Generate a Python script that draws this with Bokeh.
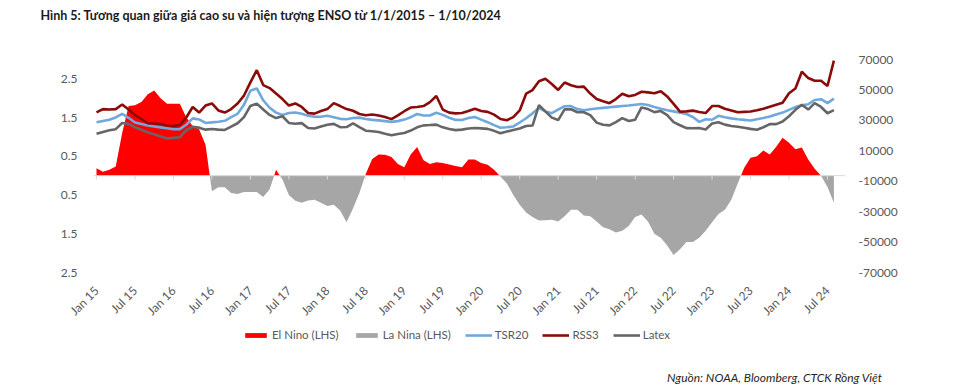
import math
import numpy as np
from bokeh.plotting import figure
from bokeh.layouts import column
from bokeh.models import (Range1d, LinearAxis, FixedTicker, Legend, LegendItem,
                          Title, Span)
from bokeh.embed import file_html
from bokeh.resources import INLINE

# ---------------- data ----------------
months = list(range(116))  # Jan 2015 ... Aug 2024 (month index)
tick_pos = list(range(0, 115, 6))
tick_labels = ["Jan 15", "Jul 15", "Jan 16", "Jul 16", "Jan 17", "Jul 17",
               "Jan 18", "Jul 18", "Jan 19", "Jul 19", "Jan 20", "Jul 20",
               "Jan 21", "Jul 21", "Jan 22", "Jul 22", "Jan 23", "Jul 23",
               "Jan 24", "Jul 24"]

left_ticks = [-2.5, -1.5, -0.5, 0.5, 1.5, 2.5]
left_tick_labels = ["2.5", "1.5", "0.5", "0.5", "1.5", "2.5"]
right_ticks = [-70000, -50000, -30000, -10000, 10000, 30000, 50000, 70000]
right_tick_labels = ["-70000", "-50000", "-30000", "-10000",
                     "10000", "30000", "50000", "70000"]

enso = [0.19, 0.10, 0.15, 0.24, 1.10, 1.80, 1.82, 1.90, 2.10, 2.20,
        2.00, 1.86, 1.86, 1.86, 1.50, 1.28, 1.20, 0.80, -0.40, -0.30,
        -0.30, -0.45, -0.47, -0.42, -0.42, -0.42, -0.55, -0.35, 0.15, -0.10,
        -0.50, -0.65, -0.70, -0.64, -0.62, -0.70, -0.78, -0.75, -0.90, -1.20,
        -0.85, -0.45, 0.05, 0.43, 0.55, 0.54, 0.48, 0.30, 0.22, 0.55,
        0.74, 0.40, 0.30, 0.35, 0.33, 0.29, 0.25, 0.22, 0.42, 0.42,
        0.33, 0.28, 0.15, -0.02, -0.20, -0.50, -0.75, -0.95, -1.07, -1.16,
        -1.15, -1.14, -1.18, -1.05, -0.88, -0.88, -1.03, -1.05, -1.18, -1.33,
        -1.38, -1.47, -1.42, -1.30, -1.07, -1.00, -1.18, -1.50, -1.60, -1.80,
        -2.05, -1.90, -1.71, -1.71, -1.60, -1.42, -1.20, -0.99, -0.88, -0.62,
        -0.20, 0.20, 0.46, 0.50, 0.65, 0.55, 0.75, 0.98, 0.85, 0.68,
        0.73, 0.42, 0.18, 0.00, -0.29, -0.70]

rss3 = [35300, 37400, 37100, 37400, 40400, 37100, 33500, 30900, 28100, 27900,
        27600, 26600, 26300, 26900, 31900, 38800, 35100, 39700, 41100, 36500,
        35100, 37400, 41100, 46300, 55000, 63000, 53200, 51200, 47600, 44000,
        39700, 41100, 38800, 34800, 34400, 36100, 37400, 41300, 39400, 37400,
        36300, 34200, 33400, 33800, 33200, 32200, 30800, 33300, 36000, 38400,
        38800, 39400, 42000, 46000, 37100, 35100, 34600, 34800, 36100, 37600,
        36100, 35600, 33800, 30900, 30100, 32100, 36500, 47500, 49900, 55700,
        57300, 53900, 50000, 54900, 53100, 51900, 52200, 47600, 44100, 42600,
        41300, 44000, 47500, 45800, 46700, 48800, 48400, 47800, 49200, 45700,
        40800, 35700, 35900, 36400, 35500, 34800, 39400, 39400, 37600, 36500,
        35300, 35600, 35800, 36600, 37700, 39000, 40300, 41600, 47800, 50900,
        62000, 57800, 56000, 56000, 52600, 69300]

tsr20 = [28800, 29600, 30400, 31900, 34200, 31700, 28600, 27600, 26600, 26000,
         25400, 24800, 24200, 24200, 27100, 31300, 30600, 28300, 28700, 29100,
         29700, 32100, 34300, 40200, 49500, 51000, 43200, 38300, 35100, 33500,
         34800, 35200, 34400, 33100, 32400, 32400, 33000, 32100, 31000, 30700,
         31500, 31800, 30900, 30300, 30000, 29500, 29000, 29500, 30500, 32100,
         34200, 33200, 33200, 35000, 33600, 31700, 30300, 30200, 31500, 32200,
         30500, 28800, 26900, 25100, 25500, 26000, 28600, 31400, 34600, 38200,
         35900, 34700, 37000, 39300, 39400, 37400, 36700, 37300, 37800, 38200,
         38600, 39000, 39400, 39800, 40300, 40700, 40100, 38800, 37600, 36700,
         35900, 35000, 34200, 32200, 29000, 30700, 30400, 33000, 32100, 31300,
         30700, 30300, 29900, 30700, 31500, 32500, 33800, 35100, 36900, 38700,
         39900, 40600, 43400, 43900, 41300, 44300]

latex = [21200, 22300, 23500, 24200, 28300, 27700, 25400, 23800, 22100, 20800,
         19400, 18100, 18500, 18900, 23500, 25800, 25200, 23900, 24300, 23900,
         23700, 25900, 28100, 32100, 39500, 41000, 37100, 33600, 31500, 32700,
         28300, 27800, 28200, 25000, 24600, 26000, 27100, 27700, 25500, 25600,
         28000, 25500, 23200, 22800, 22300, 21200, 20200, 21000, 21700, 23300,
         25400, 26700, 26900, 27200, 25400, 24300, 23600, 23900, 24600, 25000,
         24700, 24400, 23100, 21500, 22600, 23700, 24700, 26300, 26600, 40000,
         35900, 31800, 30200, 37200, 37300, 35300, 35300, 33400, 28500, 27100,
         26700, 28800, 31500, 29600, 30400, 38500, 37400, 35400, 36100, 33500,
         28800, 26800, 24900, 24800, 25000, 24000, 27900, 28800, 27200, 26300,
         25800, 25100, 24400, 23800, 25500, 27500, 27500, 29200, 32700, 36900,
         40300, 37100, 41300, 38800, 34700, 36700]

series_names = ["El Nino (LHS)", "La Nina (LHS)", "TSR20", "RSS3", "Latex"]
title_text = "Hình 5: Tương quan giữa giá cao su và hiện tượng ENSO từ 1/1/2015 – 1/10/2024"
source_text = "Nguồn: NOAA, Bloomberg, CTCK Rồng Việt"

# ---------------- styles ----------------
FONT = "Lato"
AX_COL = "#595959"
RED = "#ff0000"
GRAY = "#a6a6a6"
BLUE = "#6fa8dc"
MAROON = "#8b0a0a"
DGRAY = "#666666"
W = 961


def strip(f):
    f.grid.visible = False
    f.outline_line_color = None
    f.background_fill_color = "white"
    f.border_fill_color = "white"
    return f


# zero crossings inserted so that the two areas meet cleanly at 0
xs, ys = [], []
for k in range(len(months)):
    if k > 0 and enso[k - 1] * enso[k] < 0:
        t = enso[k - 1] / (enso[k - 1] - enso[k])
        xs.append(months[k - 1] + t * (months[k] - months[k - 1]))
        ys.append(0.0)
    xs.append(months[k])
    ys.append(enso[k])
el_nino = np.maximum(np.array(ys), 0.0)
la_nina = np.minimum(np.array(ys), 0.0)

# ---------------- header (title) ----------------
head = strip(figure(width=W, height=30, output_backend="svg", toolbar_location=None,
                    x_axis_location=None, y_axis_location=None,
                    min_border_left=0, min_border_right=0,
                    min_border_top=0, min_border_bottom=0))
head.add_layout(Title(text=title_text, align="left", offset=-53, standoff=10,
                      text_font=FONT, text_font_style="bold", text_font_size="12.5px",
                      text_color="#1a1a1a"), "above")

# ---------------- main chart ----------------
p = strip(figure(width=W, height=296, output_backend="svg", toolbar_location=None,
                 x_range=Range1d(-0.47, 116.81), y_range=Range1d(-2.5, 3.0),
                 min_border_left=93, min_border_right=116,
                 min_border_top=29, min_border_bottom=54))
p.extra_y_ranges = {"price": Range1d(-70000, 70000)}

p.varea(x=xs, y1=0, y2=el_nino, fill_color=RED)
p.varea(x=xs, y1=0, y2=la_nina, fill_color=GRAY)

# horizontal category axis line at zero with small ticks
p.add_layout(Span(location=0, dimension="width", line_color="#d9d9d9", line_width=1))
p.segment(x0=tick_pos, y0=[0] * len(tick_pos), x1=tick_pos, y1=[-0.1] * len(tick_pos),
          line_color="#d9d9d9", line_width=1)

p.line(months, tsr20, y_range_name="price", line_color=BLUE, line_width=2.6)
p.line(months, rss3, y_range_name="price", line_color=MAROON, line_width=2.6)
p.line(months, latex, y_range_name="price", line_color=DGRAY, line_width=2.6)

ly = p.yaxis[0]
ly.ticker = FixedTicker(ticks=left_ticks)
ly.major_label_overrides = dict(zip(left_ticks, left_tick_labels))

ry = LinearAxis(y_range_name="price", ticker=FixedTicker(ticks=right_ticks))
ry.major_label_overrides = dict(zip(right_ticks, right_tick_labels))
p.add_layout(ry, "right")

bx = p.xaxis[0]
bx.ticker = FixedTicker(ticks=tick_pos)
bx.major_label_overrides = dict(zip(tick_pos, tick_labels))
bx.major_label_orientation = math.pi / 4

for ax in (ly, ry, bx):
    ax.axis_line_color = None
    ax.major_tick_line_color = None
    ax.minor_tick_line_color = None
    ax.major_label_text_font = FONT
    ax.major_label_text_font_size = "12px"
    ax.major_label_text_color = AX_COL
ly.major_label_standoff = 10
ry.major_label_standoff = 7
bx.major_label_standoff = 10

# ---------------- footer (legend + source) ----------------
# the legend's renderers draw the same series, but fall outside this strip's ranges
foot = strip(figure(width=W, height=64, output_backend="svg", toolbar_location=None,
                    x_range=Range1d(-0.47, 116.81), y_range=Range1d(1000, 1001),
                    x_axis_location=None, y_axis_location=None,
                    min_border_left=0, min_border_right=0,
                    min_border_top=0, min_border_bottom=0))
k_el = foot.varea(x=xs, y1=0, y2=el_nino, fill_color=RED)
k_la = foot.varea(x=xs, y1=0, y2=la_nina, fill_color=GRAY)
k_tsr = foot.line(months, tsr20, line_color=BLUE, line_width=2.6)
k_rss = foot.line(months, rss3, line_color=MAROON, line_width=2.6)
k_lat = foot.line(months, latex, line_color=DGRAY, line_width=2.6)
legend = Legend(items=[LegendItem(label=n, renderers=[r]) for n, r in
                       zip(series_names, [k_el, k_la, k_tsr, k_rss, k_lat])],
                orientation="horizontal", location=(149, 20))
legend.border_line_color = None
legend.background_fill_alpha = 0
legend.padding = 0
legend.margin = 0
legend.spacing = 14
legend.label_standoff = 3
legend.glyph_width = 27
legend.glyph_height = 6
legend.label_height = 12
legend.label_text_font = FONT
legend.label_text_font_size = "11.5px"
legend.label_text_color = AX_COL
foot.add_layout(legend)

foot.add_layout(Title(text=source_text, align="right", offset=-37, standoff=12,
                      text_font=FONT, text_font_style="italic", text_font_size="12px",
                      text_color="#262626"), "below")

layout = column(head, p, foot, spacing=0)
open("out.html", "w").write(file_html(layout, INLINE))
